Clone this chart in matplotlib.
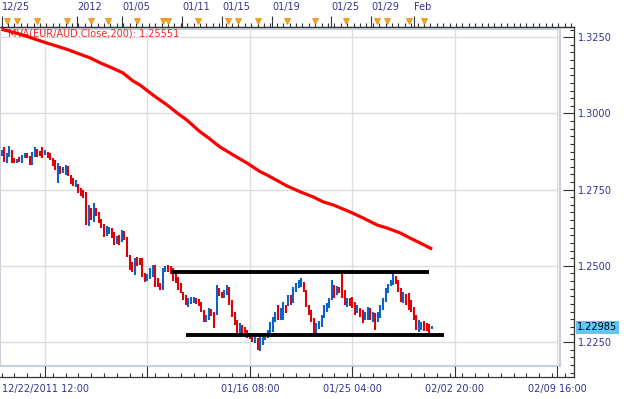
import matplotlib.pyplot as plt
import matplotlib.transforms as mtransforms
from matplotlib.patches import Rectangle
from matplotlib.ticker import MultipleLocator

# ---- data (EUR/AUD 4h bars) ----
bar_high = [
    1.2880, 1.2890, 1.2870, 1.2893, 1.2880, 1.2854, 1.2850, 1.2857, 1.2864, 1.2870,
    1.2870, 1.2860, 1.2873, 1.2890, 1.2883, 1.2877, 1.2890, 1.2880, 1.2873, 1.2870,
    1.2854, 1.2847, 1.2837, 1.2827, 1.2824, 1.2831, 1.2827, 1.2798, 1.2788, 1.2782,
    1.2768, 1.2755, 1.2749, 1.2742, 1.2700, 1.2690, 1.2706, 1.2690, 1.2677, 1.2654,
    1.2637, 1.2631, 1.2627, 1.2624, 1.2611, 1.2598, 1.2601, 1.2618, 1.2614, 1.2595,
    1.2536, 1.2513, 1.2526, 1.2529, 1.2526, 1.2526, 1.2477, 1.2473, 1.2493, 1.2503,
    1.2503, 1.2460, 1.2444, 1.2493, 1.2499, 1.2503, 1.2499, 1.2493, 1.2480, 1.2464,
    1.2444, 1.2414, 1.2404, 1.2394, 1.2398, 1.2398, 1.2394, 1.2391, 1.2381, 1.2355,
    1.2339, 1.2362, 1.2358, 1.2348, 1.2437, 1.2427, 1.2414, 1.2421, 1.2437, 1.2431,
    1.2388, 1.2348, 1.2322, 1.2312, 1.2306, 1.2299, 1.2290, 1.2276, 1.2270, 1.2270,
    1.2263, 1.2267, 1.2273, 1.2280, 1.2290, 1.2316, 1.2332, 1.2348, 1.2371, 1.2362,
    1.2381, 1.2371, 1.2404, 1.2404, 1.2431, 1.2444, 1.2454, 1.2460, 1.2447, 1.2421,
    1.2371, 1.2355, 1.2329, 1.2312, 1.2319, 1.2339, 1.2371, 1.2378, 1.2394, 1.2454,
    1.2437, 1.2434, 1.2431, 1.2477, 1.2421, 1.2394, 1.2394, 1.2398, 1.2381, 1.2371,
    1.2362, 1.2355, 1.2348, 1.2365, 1.2362, 1.2348, 1.2345, 1.2348, 1.2371, 1.2394,
    1.2427, 1.2440, 1.2454, 1.2477, 1.2467, 1.2454, 1.2427, 1.2414, 1.2408, 1.2411,
    1.2388, 1.2365, 1.2339, 1.2322, 1.2316, 1.2319, 1.2312, 1.2309, 1.2303,
]
bar_low = [
    1.2860, 1.2841, 1.2837, 1.2857, 1.2837, 1.2837, 1.2837, 1.2841, 1.2837, 1.2854,
    1.2854, 1.2831, 1.2831, 1.2857, 1.2857, 1.2860, 1.2854, 1.2864, 1.2854, 1.2847,
    1.2827, 1.2814, 1.2772, 1.2801, 1.2805, 1.2798, 1.2795, 1.2768, 1.2762, 1.2759,
    1.2739, 1.2729, 1.2722, 1.2634, 1.2631, 1.2650, 1.2644, 1.2663, 1.2641, 1.2624,
    1.2595, 1.2598, 1.2604, 1.2591, 1.2568, 1.2572, 1.2568, 1.2578, 1.2585, 1.2529,
    1.2486, 1.2480, 1.2470, 1.2499, 1.2503, 1.2464, 1.2447, 1.2450, 1.2457, 1.2464,
    1.2431, 1.2431, 1.2421, 1.2421, 1.2480, 1.2480, 1.2473, 1.2450, 1.2444, 1.2421,
    1.2411, 1.2388, 1.2371, 1.2365, 1.2375, 1.2378, 1.2375, 1.2368, 1.2348, 1.2316,
    1.2316, 1.2322, 1.2335, 1.2296, 1.2339, 1.2401, 1.2394, 1.2394, 1.2404, 1.2371,
    1.2332, 1.2306, 1.2267, 1.2267, 1.2276, 1.2267, 1.2263, 1.2260, 1.2250, 1.2247,
    1.2224, 1.2221, 1.2240, 1.2257, 1.2263, 1.2280, 1.2283, 1.2316, 1.2322, 1.2322,
    1.2322, 1.2345, 1.2368, 1.2371, 1.2378, 1.2414, 1.2427, 1.2431, 1.2414, 1.2365,
    1.2339, 1.2316, 1.2276, 1.2276, 1.2293, 1.2299, 1.2329, 1.2348, 1.2362, 1.2388,
    1.2394, 1.2404, 1.2411, 1.2394, 1.2371, 1.2365, 1.2368, 1.2362, 1.2339, 1.2345,
    1.2332, 1.2312, 1.2322, 1.2322, 1.2322, 1.2316, 1.2290, 1.2316, 1.2329, 1.2355,
    1.2381, 1.2411, 1.2434, 1.2437, 1.2440, 1.2414, 1.2381, 1.2378, 1.2371, 1.2355,
    1.2348, 1.2322, 1.2290, 1.2283, 1.2290, 1.2286, 1.2286, 1.2273, 1.2293,
]
bar_close = [
    1.2873, 1.2847, 1.2864, 1.2880, 1.2847, 1.2841, 1.2847, 1.2844, 1.2857, 1.2867,
    1.2860, 1.2837, 1.2867, 1.2883, 1.2867, 1.2864, 1.2857, 1.2873, 1.2867, 1.2854,
    1.2831, 1.2821, 1.2824, 1.2811, 1.2818, 1.2824, 1.2801, 1.2775, 1.2765, 1.2772,
    1.2745, 1.2736, 1.2729, 1.2637, 1.2690, 1.2667, 1.2696, 1.2670, 1.2647, 1.2631,
    1.2611, 1.2618, 1.2621, 1.2598, 1.2575, 1.2585, 1.2575, 1.2611, 1.2595, 1.2536,
    1.2499, 1.2486, 1.2519, 1.2513, 1.2509, 1.2473, 1.2457, 1.2464, 1.2486, 1.2493,
    1.2450, 1.2440, 1.2424, 1.2486, 1.2493, 1.2486, 1.2480, 1.2460, 1.2454, 1.2427,
    1.2417, 1.2398, 1.2378, 1.2388, 1.2391, 1.2394, 1.2381, 1.2375, 1.2355, 1.2326,
    1.2332, 1.2352, 1.2345, 1.2339, 1.2427, 1.2408, 1.2401, 1.2414, 1.2431, 1.2378,
    1.2342, 1.2316, 1.2280, 1.2303, 1.2293, 1.2276, 1.2273, 1.2267, 1.2257, 1.2263,
    1.2230, 1.2257, 1.2267, 1.2273, 1.2283, 1.2309, 1.2326, 1.2342, 1.2332, 1.2355,
    1.2371, 1.2365, 1.2398, 1.2381, 1.2421, 1.2437, 1.2447, 1.2454, 1.2421, 1.2371,
    1.2348, 1.2322, 1.2286, 1.2303, 1.2309, 1.2332, 1.2355, 1.2371, 1.2388, 1.2440,
    1.2421, 1.2427, 1.2424, 1.2411, 1.2381, 1.2388, 1.2378, 1.2368, 1.2348, 1.2362,
    1.2342, 1.2322, 1.2342, 1.2358, 1.2332, 1.2339, 1.2316, 1.2339, 1.2365, 1.2388,
    1.2417, 1.2434, 1.2450, 1.2460, 1.2450, 1.2424, 1.2391, 1.2398, 1.2381, 1.2365,
    1.2358, 1.2329, 1.2299, 1.2309, 1.2312, 1.2299, 1.2293, 1.2290, 1.22985,
]
first_open = 1.2867

# 200-period moving average
ma_index = [0, 7.2, 16.2, 25.6, 34.6, 38.5, 42.4, 47.4, 51.4, 54.1, 59.2, 61.9,
            64.6, 68.5, 72.4, 77.5, 80.3, 85.3, 90.4, 95.9, 101.0, 103.7, 111.5,
            116.6, 121.7, 125.6, 129.5, 136.1, 141.2, 146.7, 150.6, 155.7, 159.6,
            163.5, 168.2]
ma_value = [1.3276, 1.3260, 1.3235, 1.3210, 1.3182, 1.3166, 1.3152, 1.3133,
            1.3106, 1.3093, 1.3060, 1.3044, 1.3028, 1.3002, 1.2978, 1.2940,
            1.2923, 1.2890, 1.2864, 1.2837, 1.2809, 1.2798, 1.2762, 1.2743,
            1.2726, 1.2710, 1.2700, 1.2677, 1.2657, 1.2634, 1.2624, 1.2608,
            1.2591, 1.2575, 1.2555]
ma_label = 'MVA(EUR/AUD.Close,200): 1.25551'

# range lines drawn on the chart
resistance = 1.2479
resistance_from, resistance_to = 66, 167
support = 1.2272
support_from, support_to = 72, 173

last_price = 1.22985

price_ticks = [1.3250, 1.3000, 1.2750, 1.2500, 1.2250]
time_grid = [17, 57, 97, 137, 177, 217]
time_labels = ['12/22/2011 12:00', '', '01/16 08:00', '01/25 04:00',
               '02/02 20:00', '02/09 16:00']
day_ticks = [0.2, 29.5, 47.1, 70.5, 86.1, 105.7, 128.7, 144.3, 161.1]
day_labels = ['12/25', '2012', '01/05', '01/11', '01/15', '01/19',
              '01/25', '01/29', 'Feb']
event_marks = [2.1, 6.0, 13.9, 25.6, 34.9, 41.6, 52.9, 63.1, 65.0, 76.7,
               88.5, 92.4, 100.2, 111.5, 122.5, 134.6, 146.7, 150.6, 159.2, 165.0]

# ---- styling ----
RED = '#E0000A'
BLUE = '#0A64C8'
NAVY = '#33338C'
GRID = '#DDDDDD'
AXIS = '#333333'

W, H = 624, 399
fig = plt.figure(figsize=(W / 100, H / 100), dpi=100)
# axes spans the ruler lines: x 0..574 px, y 27..377 px
ax = fig.add_axes([0, 22 / H, 574 / W, 350 / H])
x0, x1 = -0.6, 223.6
y0, y1 = 1.21354, 1.32834
ax.set_xlim(x0, x1)
ax.set_ylim(y0, y1)

# inner panel (white, light border) that stops short of the rulers
px_right = 560 / 574
py_bot = 11.5 / 350
py_top = (377 - 28.5) / 350
ax.add_patch(Rectangle((0, py_bot), px_right, py_top - py_bot, transform=ax.transAxes,
                       facecolor='white', edgecolor='#C8D0DA', lw=1.5, zorder=0.5))
panel_x1 = x0 + px_right * (x1 - x0)
panel_y0 = y0 + py_bot * (y1 - y0)
panel_y1 = y0 + py_top * (y1 - y0)

for p in price_ticks:
    ax.plot([x0, panel_x1], [p, p], color=GRID, lw=1.0, zorder=1)
for t in time_grid:
    ax.plot([t, t], [panel_y0, panel_y1], color=GRID, lw=1.0, zorder=1)

# price bars
prev = first_open
colors = []
for c in bar_close:
    colors.append(BLUE if c >= prev else RED)
    prev = c
ax.vlines(range(len(bar_close)), bar_low, bar_high, colors=colors, lw=1.5, zorder=3)

# moving average + label
ax.text(8 / 574, (377 - 34) / 350, ma_label, transform=ax.transAxes, color='#F02828',
        fontsize=7, va='center', ha='left', zorder=2)
ax.plot(ma_index, ma_value, color='#FF0000', lw=2.3, zorder=4,
        solid_capstyle='butt', solid_joinstyle='round')

# range lines
ax.hlines(resistance, resistance_from, resistance_to, color='black', lw=2.8, zorder=5)
ax.hlines(support, support_from, support_to, color='black', lw=2.8, zorder=5)

# spines
ax.spines['left'].set_visible(False)
for side in ['top', 'bottom', 'right']:
    ax.spines[side].set_color(AXIS)
    ax.spines[side].set_linewidth(0.9)

# right price axis
ax.yaxis.tick_right()
ax.set_yticks(price_ticks)
ax.set_yticklabels(['%.4f' % p for p in price_ticks])
ax.yaxis.set_minor_locator(MultipleLocator(0.0025))
ax.tick_params(axis='y', which='major', direction='in', length=8, width=0.8,
               color=AXIS, labelcolor=NAVY, labelsize=7, pad=3)
ax.tick_params(axis='y', which='minor', direction='in', length=3, width=0.8, color=AXIS)

# bottom time axis
ax.set_xticks(time_grid)
ax.set_xticklabels(time_labels)
ax.xaxis.set_minor_locator(MultipleLocator(5))
ax.tick_params(axis='x', which='major', direction='in', length=8, width=0.8,
               color=AXIS, labelcolor=NAVY, labelsize=7, pad=5)
ax.tick_params(axis='x', which='minor', direction='in', length=3, width=0.8, color=AXIS)

# top day ruler
top = ax.secondary_xaxis('top')
top.set_xticks(day_ticks)
top.set_xticklabels(day_labels)
top.xaxis.set_minor_locator(MultipleLocator(2.5))
top.tick_params(axis='x', which='major', direction='out', length=8, width=0.8,
                color=AXIS, labelcolor=NAVY, labelsize=7, pad=2.5)
top.tick_params(axis='x', which='minor', direction='out', length=3, width=0.8, color=AXIS)
for lbl in top.get_xticklabels():
    lbl.set_ha('left')
top.spines['top'].set_color(AXIS)
top.spines['top'].set_linewidth(0.9)

# calendar event markers on the ruler
trans = mtransforms.blended_transform_factory(ax.transData, ax.transAxes)
ax.plot(event_marks, [1.016] * len(event_marks), transform=trans, ls='none', marker='v',
        ms=5, color='#F7A520', mec='#E08A00', mew=0.5, clip_on=False, zorder=6)

# current price tag
trans_y = mtransforms.blended_transform_factory(ax.transAxes, ax.transData)
ax.text(1 + 3 / 574, last_price, '%.5f' % last_price, transform=trans_y, fontsize=7,
        color='black', va='center', ha='left', clip_on=False,
        bbox=dict(boxstyle='square,pad=0.15', fc='#62C6F5', ec='none'))

fig.savefig('out.png', dpi=100)
